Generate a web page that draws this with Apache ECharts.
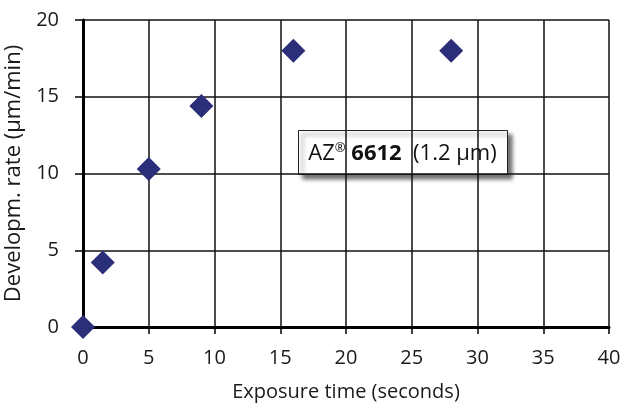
<!DOCTYPE html>
<html><head><meta charset="utf-8">
<script src="https://cdn.jsdelivr.net/npm/echarts@6/dist/echarts.min.js"></script>
<style>html,body{margin:0;padding:0;background:#fff}#c{width:623px;height:409px}</style>
</head><body><div id="c"></div>
<script>
var exposureTime = [0, 1.5, 5, 9, 16, 28];
var developRate = [0, 4.2, 10.3, 14.4, 18, 18];
var xTicks = [0, 5, 10, 15, 20, 25, 30, 35, 40];
var yTicks = [0, 5, 10, 15, 20];
var points = exposureTime.map(function (x, i) { return [x, developRate[i]]; });
var chart = echarts.init(document.getElementById('c'));
var font = '"Open Sans", "Noto Sans", sans-serif';
chart.setOption({
  animation: false,
  grid: { left: 83, right: 14, top: 20, bottom: 82, containLabel: false, outerBoundsMode: 'none' },
  xAxis: {
    type: 'value', min: xTicks[0], max: xTicks[xTicks.length - 1], interval: 5,
    name: 'Exposure time (seconds)', nameLocation: 'middle', nameGap: 55,
    nameTextStyle: { fontFamily: font, fontSize: 20, color: '#1a1a1a' },
    axisLine: { show: true, onZero: false, lineStyle: { color: '#000', width: 3 } },
    axisTick: { show: true, length: 7, lineStyle: { color: '#000', width: 1.5 } },
    axisLabel: { fontFamily: font, fontSize: 20, color: '#1a1a1a', margin: 21 },
    splitLine: { show: true, lineStyle: { color: '#111', width: 1.5 } }
  },
  yAxis: {
    type: 'value', min: yTicks[0], max: yTicks[yTicks.length - 1], interval: 5,
    name: 'Developm. rate (µm/min)', nameLocation: 'middle', nameGap: 49,
    nameTextStyle: { fontFamily: font, fontSize: 22, color: '#1a1a1a' },
    axisLine: { show: true, onZero: false, lineStyle: { color: '#000', width: 3 } },
    axisTick: { show: true, length: 8, lineStyle: { color: '#000', width: 1.5 } },
    axisLabel: { fontFamily: font, fontSize: 20, color: '#1a1a1a', margin: 24 },
    splitLine: { show: true, lineStyle: { color: '#111', width: 1.5 } }
  },
  series: [{
    type: 'scatter', data: points, symbol: 'diamond', symbolSize: 24,
    itemStyle: { color: '#2b2e78', opacity: 1 }, z: 5
  }],
  graphic: [{
    type: 'group', left: 298, top: 130, z: 10,
    children: [
      { type: 'rect', shape: { x: 0, y: 0, width: 209, height: 44 },
        style: { fill: '#fff', stroke: '#222', lineWidth: 1,
                 shadowBlur: 4, shadowOffsetX: 4, shadowOffsetY: 4, shadowColor: 'rgba(0,0,0,0.55)' } },
      { type: 'text', x: 104, y: 23,
        style: {
          text: '{n|AZ}{s|®}{n| }{b|6612}{n|  (1.2 µm)}',
          align: 'center', verticalAlign: 'middle',
          rich: {
            n: { fontFamily: font, fontSize: 22, fill: '#111' },
            s: { fontFamily: font, fontSize: 13, fill: '#111', verticalAlign: 'top', padding: [0, 0, 10, 0] },
            b: { fontFamily: font, fontSize: 22, fontWeight: 'bold', fill: '#111' }
          }
        } }
    ]
  }]
});
</script></body></html>
